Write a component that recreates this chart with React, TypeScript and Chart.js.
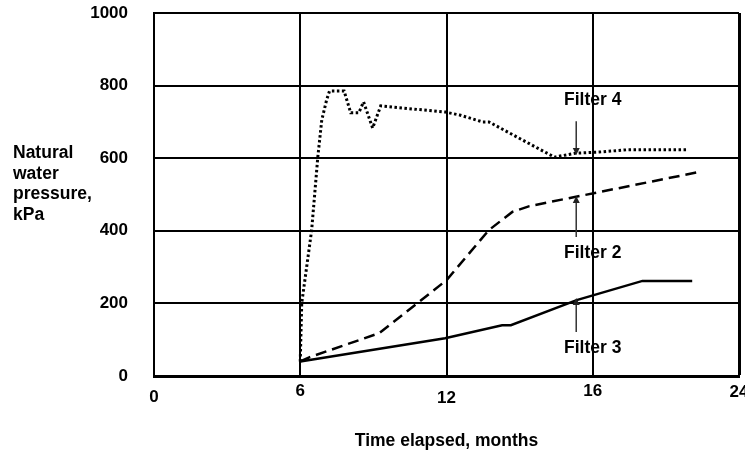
import React, { useEffect, useRef } from 'react';
import { Chart, registerables } from 'chart.js';

Chart.register(...registerables);

// Axis: equally spaced tick positions labelled with months
const xTickLabels = ['0', '6', '12', '16', '24'];
const yTickMin = 0;
const yTickMax = 1000;
const yTickStep = 200;

// Series (x in axis-position units 0..4 where 1 = 6, 2 = 12, 3 = 16, 4 = 24 months; y in kPa)
const filter4X = [1.0, 1.01, 1.078, 1.12, 1.147, 1.18, 1.2, 1.3, 1.345, 1.4, 1.433, 1.495, 1.55, 1.993, 2.09, 2.246, 2.29, 2.737, 2.887, 3.044, 3.23, 3.64];
const filter4Y = [40, 200, 402, 603, 705, 760, 785, 785, 725, 725, 755, 683, 744, 727, 719, 700, 700, 603, 614, 617, 623, 623];

const filter2X = [1.0, 1.065, 1.54, 2.0, 2.29, 2.45, 2.567, 3.727];
const filter2Y = [40, 52, 118, 264, 402, 452, 468, 562];

const filter3X = [1.0, 1.99, 2.38, 2.44, 2.89, 3.34, 3.68];
const filter3Y = [40, 104, 140, 140, 209, 262, 262];

// Annotations
const annotationLabels = ['Filter 4', 'Filter 2', 'Filter 3'];
const annotationLabelX = [3.0, 3.0, 3.0];
const annotationLabelY = [760, 339, 77];
const arrowX = [2.887, 2.887, 2.887];
const arrowFromY = [702, 383, 121];
const arrowToY = [609, 496, 215];

const yTitleLines = ['Natural', 'water', 'pressure,', 'kPa'];
const xTitle = 'Time elapsed, months';

// style: small vertical nudges of the x tick labels, as in the original
const xTickLabelNudge = [4, -2, 5, -2, -1];

const FONT = "'Liberation Sans', Arial, sans-serif";

function toPoints(xs: number[], ys: number[]) {
  return xs.map((x, i) => ({ x, y: ys[i] }));
}

const annotationPlugin = {
  id: 'annotationPlugin',
  afterDatasetsDraw(chart: any) {
    const { ctx, scales, chartArea } = chart;
    const xs = scales.x;
    const ys = scales.y;
    ctx.save();
    // arrows
    ctx.strokeStyle = '#333';
    ctx.fillStyle = '#222';
    ctx.lineWidth = 1.5;
    for (let i = 0; i < arrowX.length; i++) {
      const px = xs.getPixelForValue(arrowX[i]);
      const y0 = ys.getPixelForValue(arrowFromY[i]);
      const y1 = ys.getPixelForValue(arrowToY[i]);
      const dir = y1 > y0 ? 1 : -1;
      ctx.beginPath();
      ctx.moveTo(px, y0);
      ctx.lineTo(px, y1 - dir * 4);
      ctx.stroke();
      ctx.beginPath();
      ctx.moveTo(px, y1);
      ctx.lineTo(px - 3.5, y1 - dir * 7);
      ctx.lineTo(px + 3.5, y1 - dir * 7);
      ctx.closePath();
      ctx.fill();
    }
    // labels
    ctx.fillStyle = '#000';
    ctx.font = `bold 17.5px ${FONT}`;
    ctx.textAlign = 'center';
    ctx.textBaseline = 'middle';
    for (let i = 0; i < annotationLabels.length; i++) {
      ctx.fillText(
        annotationLabels[i],
        xs.getPixelForValue(annotationLabelX[i]),
        ys.getPixelForValue(annotationLabelY[i])
      );
    }
    // x tick labels (drawn from the scale's ticks)
    ctx.font = `bold 17px ${FONT}`;
    xs.ticks.forEach((t: any) => {
      const idx = Math.round(t.value);
      const label = xTickLabels[idx];
      if (label === undefined) return;
      ctx.fillText(label, xs.getPixelForValue(t.value), chartArea.bottom + 17 + (xTickLabelNudge[idx] || 0));
    });
    // y-axis title (horizontal, multi-line)
    ctx.font = `bold 17.5px ${FONT}`;
    ctx.textAlign = 'left';
    ctx.textBaseline = 'alphabetic';
    const baseY = 158;
    yTitleLines.forEach((line, i) => {
      ctx.fillText(line, 13, baseY + i * 20.5);
    });
    ctx.restore();
  },
};

export default function App() {
  const canvasRef = useRef<HTMLCanvasElement | null>(null);

  useEffect(() => {
    document.body.style.margin = '0';
    const canvas = canvasRef.current;
    if (!canvas) return;
    Chart.defaults.font.family = FONT;
    Chart.defaults.color = '#000';

    const chart = new Chart(canvas, {
      type: 'line',
      data: {
        datasets: [
          {
            label: 'Filter 4',
            data: toPoints(filter4X, filter4Y),
            borderColor: '#000',
            borderWidth: 3,
            borderDash: [2.5, 2.5],
            pointRadius: 0,
            tension: 0,
            fill: false,
          },
          {
            label: 'Filter 2',
            data: toPoints(filter2X, filter2Y),
            borderColor: '#000',
            borderWidth: 2.5,
            borderDash: [11, 6],
            pointRadius: 0,
            tension: 0,
            fill: false,
          },
          {
            label: 'Filter 3',
            data: toPoints(filter3X, filter3Y),
            borderColor: '#000',
            borderWidth: 2.5,
            pointRadius: 0,
            tension: 0,
            fill: false,
          },
        ],
      },
      options: {
        animation: false,
        responsive: true,
        maintainAspectRatio: false,
        devicePixelRatio: 1,
        layout: { padding: { left: 0, right: 6, top: 13, bottom: 0 } },
        plugins: {
          legend: { display: false },
          tooltip: { enabled: false },
        },
        scales: {
          x: {
            type: 'linear',
            min: 0,
            max: xTickLabels.length - 1,
            ticks: {
              display: false,
              stepSize: 1,
              autoSkip: false,
              callback: (v: any) => xTickLabels[Number(v)] ?? '',
            },
            grid: {
              color: '#000',
              lineWidth: (c: any) => (c.index === xTickLabels.length - 1 ? 3 : 2),
              drawTicks: false,
            },
            border: { display: true, color: '#000', width: 3 },
            title: {
              display: true,
              text: xTitle,
              font: { size: 17.5, weight: 'bold' },
              color: '#000',
              padding: { top: 0, bottom: 3 },
            },
            afterFit: (s: any) => {
              s.height = 79;
              s.paddingLeft = 0;
              s.paddingRight = 0;
            },
          },
          y: {
            type: 'linear',
            min: yTickMin,
            max: yTickMax,
            ticks: {
              stepSize: yTickStep,
              padding: 26,
              font: { size: 17, weight: 'bold' },
              color: '#000',
              callback: (v: any) => String(v),
            },
            grid: { color: '#000', lineWidth: 2, drawTicks: false },
            border: { display: true, color: '#000', width: 2 },
            afterFit: (s: any) => {
              s.width = 154;
              s.paddingTop = 0;
              s.paddingBottom = 0;
            },
          },
        },
      },
      plugins: [annotationPlugin],
    });
    return () => chart.destroy();
  }, []);

  return (
    <div style={{ width: 745, height: 455, position: 'relative', background: '#fff' }}>
      <canvas ref={canvasRef} />
    </div>
  );
}
